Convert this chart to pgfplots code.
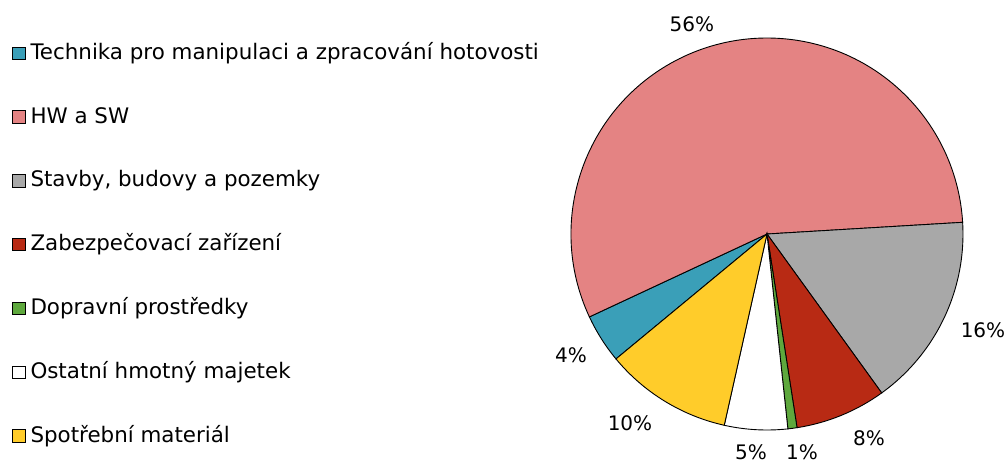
\documentclass[border=0pt]{standalone}
\usepackage{pgfplots}
\pgfplotsset{compat=1.18}
\usepackage{fontspec}
\setmainfont{DejaVu Sans}

\definecolor{ctech}{HTML}{3A9FB8}
\definecolor{chw}{HTML}{E48383}
\definecolor{cstav}{HTML}{A8A8A8}
\definecolor{czab}{HTML}{B82A14}
\definecolor{cdop}{HTML}{5EA83D}
\definecolor{cost}{HTML}{FFFFFF}
\definecolor{cspo}{HTML}{FFCC2A}

\begin{document}
\begin{tikzpicture}
\useasboundingbox (0,0) rectangle (503pt,231pt);
\begin{axis}[
    at={(383.5pt,114pt)}, anchor=origin,
    x=98pt, y=98pt,
    xmin=-1, xmax=1, ymin=-1, ymax=1,
    hide axis, clip=false,
    legend cell align=left,
    legend style={draw=none, fill=none,
        at={(-1.426,0.9865)}, anchor=north west,
        font=\fontsize{10.7}{12}\selectfont,
        inner sep=0pt, outer sep=0pt,
        row sep=21.9pt, column sep=2.5pt,
        nodes={inner sep=0pt, text height=8pt, text depth=2pt}},
    legend image code/.code={\draw[#1, line width=0.5pt] (0pt,-3.125pt) rectangle (6.25pt,3.125pt);},
    every node/.append style={font=\fontsize{10.5}{12}\selectfont},
]
\addlegendimage{fill=ctech}
\addlegendentry{Technika pro manipulaci a zpracování hotovosti}
\addlegendimage{fill=chw}
\addlegendentry{HW a SW}
\addlegendimage{fill=cstav}
\addlegendentry{Stavby, budovy a pozemky}
\addlegendimage{fill=czab}
\addlegendentry{Zabezpečovací zařízení}
\addlegendimage{fill=cdop}
\addlegendentry{Dopravní prostředky}
\addlegendimage{fill=cost}
\addlegendentry{Ostatní hmotný majetek}
\addlegendimage{fill=cspo}
\addlegendentry{Spotřební materiál}

% slices, clockwise, share in percent
\pgfplotsextra{
  \def\ang{219.6}
  \foreach \v/\c in {4.05/ctech, 56.0/chw, 16.0/cstav, 7.5/czab, 0.75/cdop, 5.2/cost, 10.5/cspo}{
    \pgfmathsetmacro\endang{\ang-3.6*\v}
    \filldraw[fill=\c, draw=black, line width=0.45pt]
      (axis cs:0,0) -- ++(\ang:98pt) arc[start angle=\ang, end angle=\endang, radius=98pt] -- cycle;
    \xdef\ang{\endang}
  }
}

\node at (axis cs:-0.383,1.071) {56\%};
\node at (axis cs:1.102,-0.490) {16\%};
\node at (axis cs:0.520,-1.041) {8\%};
\node at (axis cs:0.179,-1.112) {1\%};
\node at (axis cs:-0.082,-1.112) {5\%};
\node at (axis cs:-0.699,-0.964) {10\%};
\node at (axis cs:-1.0,-0.617) {4\%};
\end{axis}
\end{tikzpicture}
\end{document}
